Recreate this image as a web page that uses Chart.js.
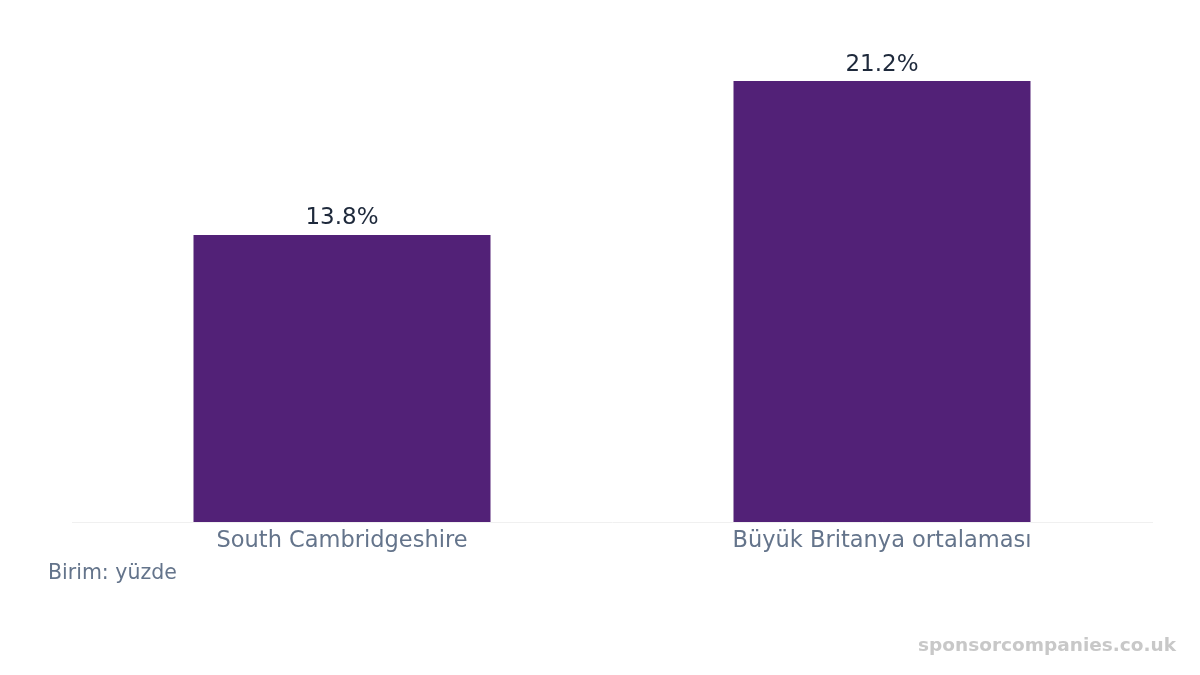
<!DOCTYPE html>
<html>
<head>
  <title>Birim: yüzde</title>
  <script src="https://cdn.jsdelivr.net/npm/chart.js"></script>
  <style>
    body { margin: 0; background: #fff; font-family: "DejaVu Sans", sans-serif; }
    #wrap { position: relative; width: 1200px; height: 675px; }
    #unit { position: absolute; left: 48px; top: 560px; font-size: 20.5px; color: #64748b; }
    #mark { position: absolute; right: 24px; top: 634px; font-size: 18.5px; font-weight: bold; color: #c8c8c8; }
  </style>
</head>
<body>
  <div id="wrap">
    <canvas id="barChart" width="1200" height="675"></canvas>
    <div id="unit">Birim: yüzde</div>
    <div id="mark">sponsorcompanies.co.uk</div>
  </div>

  <script>
    const categories = ['South Cambridgeshire', 'Büyük Britanya ortalaması'];
    const values = [13.8, 21.2];

    // value labels above each bar
    const valueLabels = {
      id: 'valueLabels',
      afterDatasetsDraw(chart) {
        const ctx = chart.ctx;
        const meta = chart.getDatasetMeta(0);
        ctx.save();
        ctx.font = '23px "DejaVu Sans"';
        ctx.fillStyle = '#1e293b';
        ctx.textAlign = 'center';
        ctx.textBaseline = 'bottom';
        meta.data.forEach(function(bar, i) {
          ctx.fillText(values[i].toFixed(1) + '%', bar.x, bar.y - 5);
        });
        ctx.restore();
      }
    };

    const ctx = document.getElementById('barChart').getContext('2d');
    new Chart(ctx, {
      type: 'bar',
      data: {
        labels: categories,
        datasets: [{
          data: values,
          backgroundColor: '#522177',
          barPercentage: 0.55,
          categoryPercentage: 1
        }]
      },
      options: {
        responsive: false,
        animation: false,
        layout: { padding: { left: 72, right: 48, top: 37, bottom: 114 } },
        plugins: { legend: { display: false }, tooltip: { enabled: false } },
        scales: {
          x: {
            grid: { display: false, drawTicks: false },
            border: { display: true, color: '#f0f0f0', width: 1 },
            ticks: { color: '#64748b', font: { family: 'DejaVu Sans', size: 22.5 }, padding: 6 }
          },
          y: {
            display: false,
            min: 0,
            max: 23.32
          }
        }
      },
      plugins: [valueLabels]
    });
  </script>
</body>
</html>
